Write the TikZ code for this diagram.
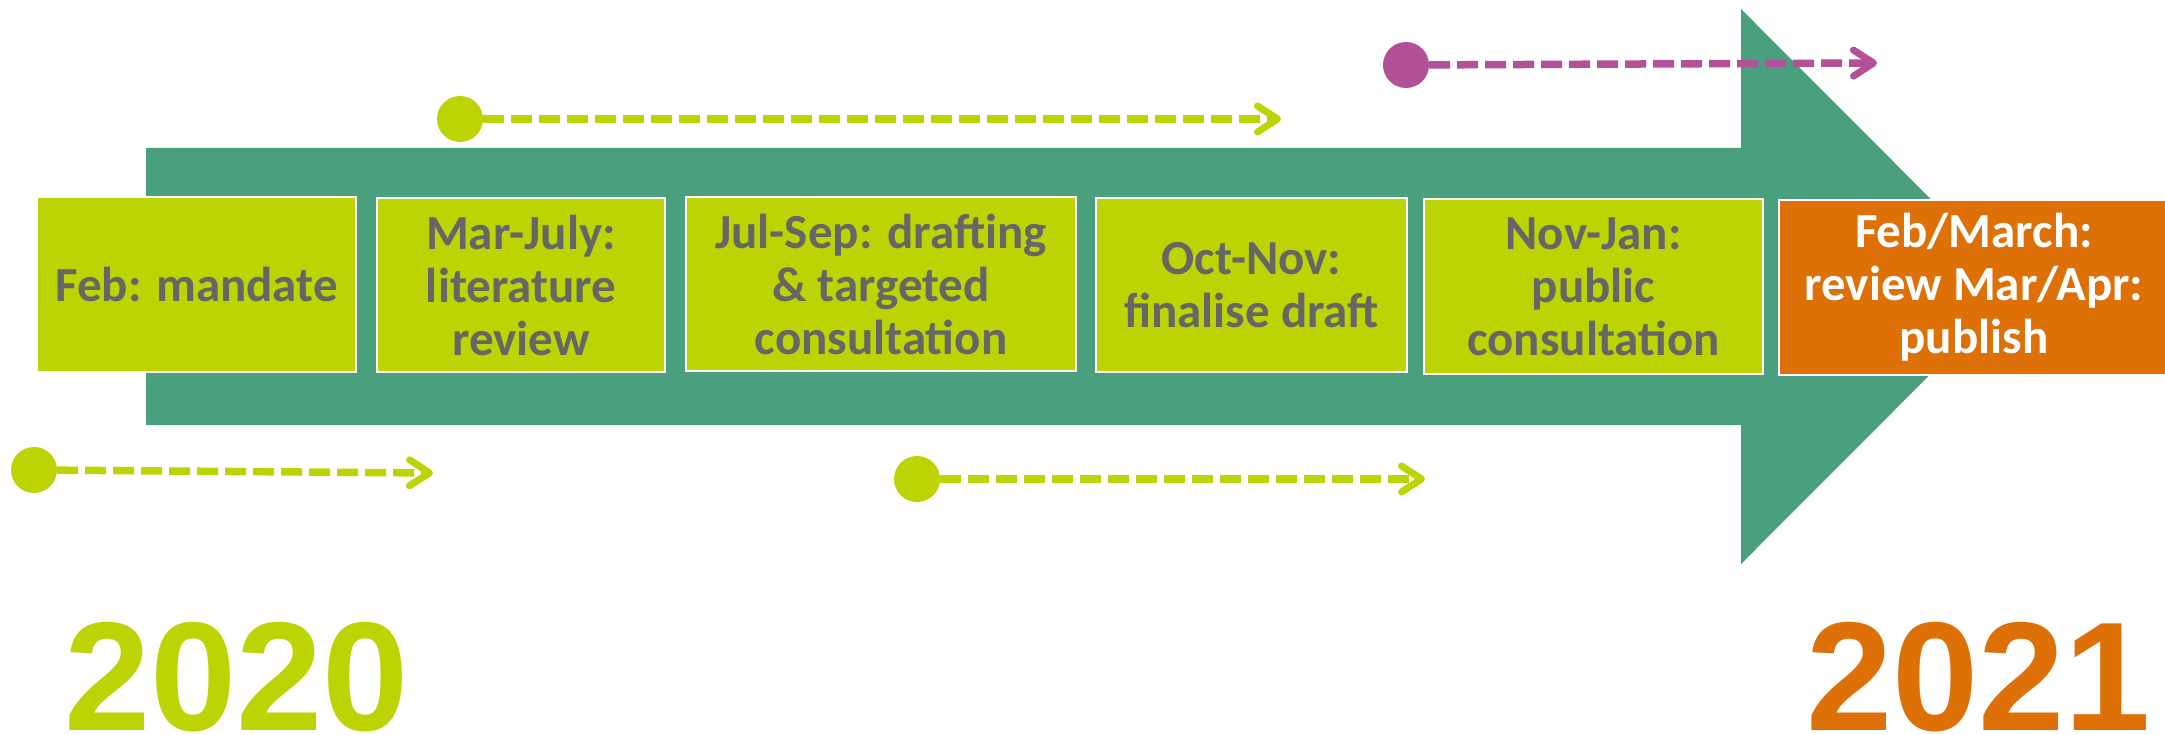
\documentclass[tikz,border=0pt]{standalone}
\usepackage{fontspec}
\setmainfont{Carlito}
\newfontfamily\yearfont{Liberation Sans}
\usetikzlibrary{arrows.meta}

\definecolor{arrowteal}{HTML}{4AA07E}
\definecolor{stepgreen}{HTML}{BCD404}
\definecolor{steporange}{HTML}{DE7008}
\definecolor{planmagenta}{HTML}{B25098}
\definecolor{textgrey}{HTML}{666666}

\begin{document}
\begin{tikzpicture}[x=1pt,y=-1pt,
    stepbox/.style={draw=white,line width=2pt,fill=stepgreen,text=textgrey,
      align=center,inner sep=0pt,minimum height=174pt,
      font=\fontsize{49}{53}\selectfont\bfseries},
    yearlabel/.style={anchor=base west,inner sep=0pt,
      font=\yearfont\bfseries\fontsize{155}{155}\selectfont},
    dot/.style={circle,inner sep=0pt,minimum size=46pt},
    plan/.style={line width=7.5pt,dash pattern=on 21pt off 7pt,
      -{Straight Barb[length=20pt,width=26pt,line width=7pt 0,round]}}]
      \useasboundingbox (0,0) rectangle (2165,735);

       %draw big arrow
      \fill[arrowteal] (146,148) -- (1741,148) -- (1741,9) -- (2018,286.5)
        -- (1741,564) -- (1741,425) -- (146,425) -- cycle;

       %draw steps
      \node[stepbox,minimum width=319pt] (feb) at (196.5,284.5) {Feb: mandate};
      \node[stepbox,minimum width=288pt] (marjul) at (521,285) {Mar-July:\\literature\\review};
      \node[stepbox,minimum width=390pt] (julsep) at (881,284) {Jul-Sep: drafting\\\& targeted\\consultation};
      \node[stepbox,minimum width=311pt] (octnov) at (1251.5,285) {Oct-Nov:\\finalise draft};
      \node[stepbox,minimum width=339pt] (novjan) at (1593.5,286.5) {Nov-Jan:\\public\\consultation};
      \node[stepbox,minimum width=390pt,fill=steporange,text=white] (febapr) at (1974,287.5) {Feb/March:\\review Mar/Apr:\\publish};

       %draw dashed arrows
      \foreach \n/\x/\y/\tx/\ty/\c in {a/34/470/433/473/stepgreen,
          b/460/119/1281/119/stepgreen, c/917/479/1425/479/stepgreen,
          d/1406/65/1877/63/planmagenta} {%
        \node[dot,fill=\c] (dot\n) at (\x,\y) {};
        \coordinate (end\n) at (\tx,\ty);
        \draw[plan,color=\c] (dot\n) -- (end\n);
      }

       %draw years
      \node[yearlabel,text=stepgreen] (y2020) at (64,730) {2020};
      \node[yearlabel,text=steporange] (y2021) at (1806,730) {2021};
    \end{tikzpicture}
\end{document}
